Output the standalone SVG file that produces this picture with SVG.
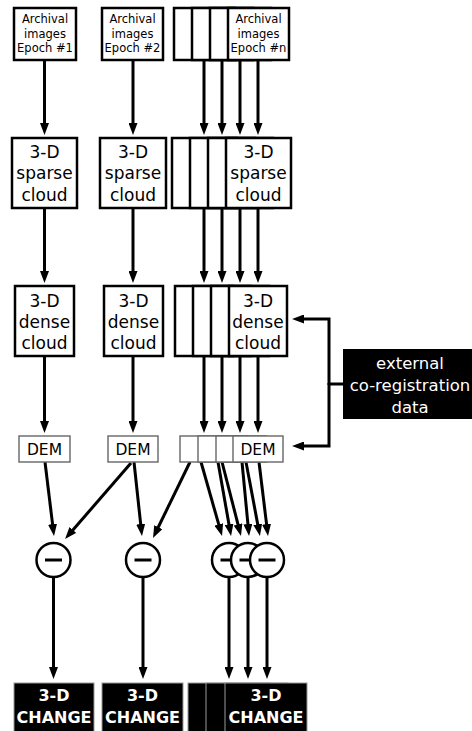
<svg xmlns="http://www.w3.org/2000/svg" width="472" height="731" viewBox="0 0 472 731">
  <style>
    .box { fill: #fff; stroke: #000; stroke-width: 2.5; }
    .dem { fill: #fff; stroke: #666; stroke-width: 1.4; }
    .dark { fill: #000; stroke: #999; stroke-width: 1; }
    .sub { fill: #fff; stroke: #000; stroke-width: 2.5; }
    .bar { stroke: #000; stroke-width: 3; }
    .wire { fill: none; stroke: #000; stroke-width: 3; }
    .arrow { fill: none; stroke: #000; stroke-width: 3; marker-end: url(#head); }
    text { font-family: "DejaVu Sans", "Liberation Sans", sans-serif; text-anchor: middle; fill: #000; }
    .t1 { font-size: 11.5px; }
    .t2 { font-size: 17px; }
    .t3 { font-size: 15.5px; }
    .tw { font-size: 16.5px; fill: #fff; }
    .tb { font-size: 16px; font-weight: bold; fill: #fff; }
  </style>
  <defs>
    <marker id="head" viewBox="0 0 12 9" markerWidth="12" markerHeight="9" refX="2" refY="4.5" orient="auto" markerUnits="userSpaceOnUse">
      <path d="M0,0 L12,4.5 L0,9 z" fill="#000"/>
    </marker>
  </defs>

  <!-- connectors -->
  <g id="connectors">
    <!-- archival images to sparse clouds -->
    <line class="arrow" x1="44.5" y1="60" x2="44.5" y2="125"/>
    <line class="arrow" x1="133" y1="60" x2="133" y2="125"/>
    <line class="arrow" x1="204" y1="60" x2="204" y2="125"/>
    <line class="arrow" x1="222" y1="60" x2="222" y2="125"/>
    <line class="arrow" x1="240" y1="60" x2="240" y2="125"/>
    <line class="arrow" x1="258" y1="60" x2="258" y2="125"/>
    <!-- sparse to dense clouds -->
    <line class="arrow" x1="44.5" y1="208" x2="44.5" y2="273"/>
    <line class="arrow" x1="133" y1="208" x2="133" y2="273"/>
    <line class="arrow" x1="204" y1="208" x2="204" y2="273"/>
    <line class="arrow" x1="222" y1="208" x2="222" y2="273"/>
    <line class="arrow" x1="240" y1="208" x2="240" y2="273"/>
    <line class="arrow" x1="258" y1="208" x2="258" y2="273"/>
    <!-- dense clouds to DEMs -->
    <line class="arrow" x1="44.5" y1="356" x2="44.5" y2="423"/>
    <line class="arrow" x1="133" y1="356" x2="133" y2="423"/>
    <line class="arrow" x1="204" y1="356" x2="204" y2="423"/>
    <line class="arrow" x1="222" y1="356" x2="222" y2="423"/>
    <line class="arrow" x1="240" y1="356" x2="240" y2="423"/>
    <line class="arrow" x1="258" y1="356" x2="258" y2="423"/>
    <!-- external co-registration data -->
    <path class="wire" d="M343,384 H329"/>
    <path class="arrow" d="M329,385 V319 H302"/>
    <path class="arrow" d="M329,383 V446 H302"/>
    <!-- DEMs to differencing -->
    <line class="arrow" x1="45" y1="462" x2="52.8" y2="526.1"/>
    <line class="arrow" x1="131" y1="463" x2="71.6" y2="531.5"/>
    <line class="arrow" x1="134" y1="462" x2="140.9" y2="526.1"/>
    <line class="arrow" x1="190" y1="462" x2="157.4" y2="529"/>
    <line class="arrow" x1="201" y1="462" x2="219.3" y2="526.4"/>
    <line class="arrow" x1="218" y1="462" x2="229.3" y2="526.2"/>
    <line class="arrow" x1="222" y1="462" x2="238.5" y2="526.3"/>
    <line class="arrow" x1="242" y1="462" x2="248.1" y2="526"/>
    <line class="arrow" x1="246" y1="462" x2="258.1" y2="526.2"/>
    <line class="arrow" x1="259" y1="462" x2="266.8" y2="526.1"/>
    <!-- differencing to change -->
    <line class="arrow" x1="53.5" y1="577" x2="53.5" y2="669"/>
    <line class="arrow" x1="143" y1="577" x2="143" y2="669"/>
    <line class="arrow" x1="229" y1="577" x2="229" y2="669"/>
    <line class="arrow" x1="248" y1="577" x2="248" y2="669"/>
    <line class="arrow" x1="267" y1="577" x2="267" y2="669"/>
  </g>

  <!-- archival images -->
  <g id="archival-1">
    <rect class="box" x="14" y="8" width="62" height="52"/>
    <text class="t1" x="45" y="23">Archival</text>
    <text class="t1" x="45" y="37.5">images</text>
    <text class="t1" x="45" y="52">Epoch #1</text>
  </g>
  <g id="archival-2">
    <rect class="box" x="102" y="8" width="61" height="52"/>
    <text class="t1" x="132.5" y="23">Archival</text>
    <text class="t1" x="132.5" y="37.5">images</text>
    <text class="t1" x="132.5" y="52">Epoch #2</text>
  </g>
  <g id="archival-n">
    <rect class="box" x="174" y="8" width="61" height="52"/>
    <rect class="box" x="192" y="8" width="61" height="52"/>
    <rect class="box" x="210" y="8" width="61" height="52"/>
    <rect class="box" x="228" y="8" width="61" height="52"/>
    <text class="t1" x="258.5" y="23">Archival</text>
    <text class="t1" x="258.5" y="37.5">images</text>
    <text class="t1" x="258.5" y="52">Epoch #n</text>
  </g>

  <!-- sparse clouds -->
  <g id="sparse-1">
    <rect class="box" x="12" y="138" width="65" height="70"/>
    <text class="t2" x="44.5" y="158">3-D</text>
    <text class="t2" x="44.5" y="179">sparse</text>
    <text class="t2" x="44.5" y="201">cloud</text>
  </g>
  <g id="sparse-2">
    <rect class="box" x="100" y="138" width="66" height="70"/>
    <text class="t2" x="133" y="158">3-D</text>
    <text class="t2" x="133" y="179">sparse</text>
    <text class="t2" x="133" y="201">cloud</text>
  </g>
  <g id="sparse-n">
    <rect class="box" x="172" y="138" width="65" height="70"/>
    <rect class="box" x="190" y="138" width="65" height="70"/>
    <rect class="box" x="208" y="138" width="65" height="70"/>
    <rect class="box" x="226" y="138" width="65" height="70"/>
    <text class="t2" x="258.5" y="158">3-D</text>
    <text class="t2" x="258.5" y="179">sparse</text>
    <text class="t2" x="258.5" y="201">cloud</text>
  </g>

  <!-- dense clouds -->
  <g id="dense-1">
    <rect class="box" x="15" y="286" width="59" height="70"/>
    <text class="t2" x="44.5" y="307">3-D</text>
    <text class="t2" x="44.5" y="328">dense</text>
    <text class="t2" x="44.5" y="349">cloud</text>
  </g>
  <g id="dense-2">
    <rect class="box" x="104" y="286" width="59" height="70"/>
    <text class="t2" x="133.5" y="307">3-D</text>
    <text class="t2" x="133.5" y="328">dense</text>
    <text class="t2" x="133.5" y="349">cloud</text>
  </g>
  <g id="dense-n">
    <rect class="box" x="175" y="286" width="58" height="70"/>
    <rect class="box" x="193" y="286" width="58" height="70"/>
    <rect class="box" x="211" y="286" width="58" height="70"/>
    <rect class="box" x="229" y="286" width="58" height="70"/>
    <text class="t2" x="258" y="307">3-D</text>
    <text class="t2" x="258" y="328">dense</text>
    <text class="t2" x="258" y="349">cloud</text>
  </g>

  <!-- external data -->
  <g id="external">
    <rect x="343" y="349" width="140" height="70" fill="#000"/>
    <text class="tw" x="410" y="369">external</text>
    <text class="tw" x="410" y="391">co-registration</text>
    <text class="tw" x="410" y="413">data</text>
  </g>

  <!-- DEMs -->
  <g id="dem-1">
    <rect class="dem" x="19" y="436" width="51" height="26"/>
    <text class="t3" x="44.5" y="455">DEM</text>
  </g>
  <g id="dem-2">
    <rect class="dem" x="108" y="436" width="50" height="26"/>
    <text class="t3" x="133" y="455">DEM</text>
  </g>
  <g id="dem-n">
    <rect class="dem" x="180" y="436" width="50" height="26"/>
    <rect class="dem" x="198" y="436" width="50" height="26"/>
    <rect class="dem" x="216" y="436" width="50" height="26"/>
    <rect class="dem" x="233" y="436" width="50" height="26"/>
    <text class="t3" x="258" y="455">DEM</text>
  </g>

  <!-- differencing operators -->
  <g id="diff-1">
    <circle class="sub" cx="53.5" cy="560" r="17"/>
    <line class="bar" x1="45" y1="560" x2="62" y2="560"/>
  </g>
  <g id="diff-2">
    <circle class="sub" cx="143" cy="560" r="17"/>
    <line class="bar" x1="134.5" y1="560" x2="151.5" y2="560"/>
  </g>
  <g id="diff-n">
    <circle class="sub" cx="229" cy="560" r="17"/>
    <line class="bar" x1="220.5" y1="560" x2="237.5" y2="560"/>
    <circle class="sub" cx="248" cy="560" r="17"/>
    <line class="bar" x1="239.5" y1="560" x2="256.5" y2="560"/>
    <circle class="sub" cx="267" cy="560" r="17"/>
    <line class="bar" x1="258.5" y1="560" x2="275.5" y2="560"/>
  </g>

  <!-- change results -->
  <g id="change-1">
    <rect class="dark" x="14" y="683" width="80" height="50"/>
    <text class="tb" x="54" y="701">3-D</text>
    <text class="tb" x="54" y="723">CHANGE</text>
  </g>
  <g id="change-2">
    <rect class="dark" x="102" y="683" width="81" height="50"/>
    <text class="tb" x="142.5" y="701">3-D</text>
    <text class="tb" x="142.5" y="723">CHANGE</text>
  </g>
  <g id="change-n">
    <rect class="dark" x="188" y="683" width="82" height="50"/>
    <rect class="dark" x="206" y="683" width="82" height="50"/>
    <rect class="dark" x="225" y="683" width="82" height="50"/>
    <text class="tb" x="266" y="701">3-D</text>
    <text class="tb" x="266" y="723">CHANGE</text>
  </g>
</svg>
